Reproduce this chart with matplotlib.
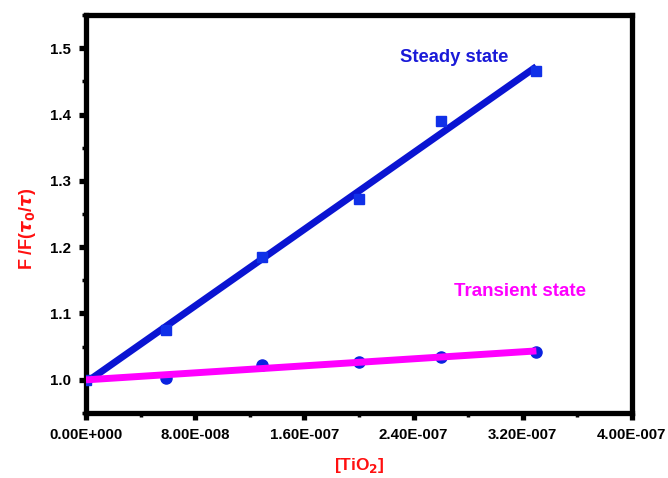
import numpy as np
import matplotlib
matplotlib.use("Agg")
import matplotlib.pyplot as plt
from matplotlib.ticker import MultipleLocator, FormatStrFormatter

plt.rcParams['font.family'] = ['Liberation Sans', 'DejaVu Sans']
plt.rcParams['font.weight'] = 'bold'
plt.rcParams['mathtext.fontset'] = 'dejavusans'

# TiO2 concentration (M)
tio2 = [0.0, 5.86e-8, 1.29e-7, 2.0e-7, 2.6e-7, 3.3e-7]
# steady-state F0/F
steady = [1.0, 1.075, 1.185, 1.272, 1.39, 1.465]
# transient tau0/tau
transient = [1.0, 1.003, 1.023, 1.027, 1.034, 1.042]

x = np.array(tio2)
ks, bs = np.polyfit(x, steady, 1)
kt, bt = np.polyfit(x, transient, 1)
xfit = np.array([0.0, x[-1]])

fig = plt.figure(figsize=(6.68, 4.78), dpi=100)
ax = fig.add_axes([0.1287, 0.136, 0.8173, 0.8326])

ax.plot(xfit, ks * xfit + bs, color='#0a14d2', lw=5, zorder=2, solid_capstyle='butt')
ax.plot(x, steady, 's', color='#1030e8', ms=7, zorder=3)
ax.plot(x, transient, 'o', color='#0a22e0', ms=8, zorder=2)
ax.plot(xfit, kt * xfit + bt, color='#ff00ff', lw=5, zorder=3, solid_capstyle='butt')

ax.text(2.30e-7, 1.486, 'Steady state', color='#1a1ad8', fontsize=13.2,
        fontweight='bold', va='center')
ax.text(2.70e-7, 1.133, 'Transient state', color='#ff00ff', fontsize=13.5,
        fontweight='bold', va='center')

ax.set_xlim(0, 4e-7)
ax.set_ylim(0.95, 1.55)
ax.xaxis.set_minor_locator(MultipleLocator(4e-8))
ax.yaxis.set_major_locator(MultipleLocator(0.1))
ax.yaxis.set_minor_locator(MultipleLocator(0.05))
ax.yaxis.set_major_formatter(FormatStrFormatter('%.1f'))

xlabels = ['0.00E+000', '8.00E-008', '1.60E-007', '2.40E-007', '3.20E-007', '4.00E-007']
ax.set_xticks(np.arange(6) * 8e-8)
ax.set_xticklabels(xlabels)

for s in ax.spines.values():
    s.set_linewidth(3.8)
ax.tick_params(which='major', direction='out', length=5, width=3.8,
               labelsize=10.8, pad=6)
ax.tick_params(which='minor', direction='out', length=3, width=2.5)
for lab in ax.get_xticklabels() + ax.get_yticklabels():
    lab.set_fontweight('bold')

ax.set_xlabel('[TiO$_\\mathbf{2}$]', color='#ff1010', fontsize=12.5,
              fontweight='bold', labelpad=10)
ax.set_ylabel('F /F($\\tau_0$/$\\tau$)', color='#ff1010', fontsize=13,
              fontweight='bold')
ax.yaxis.set_label_coords(-0.088, 0.462)

fig.savefig('out.png', dpi=100)
